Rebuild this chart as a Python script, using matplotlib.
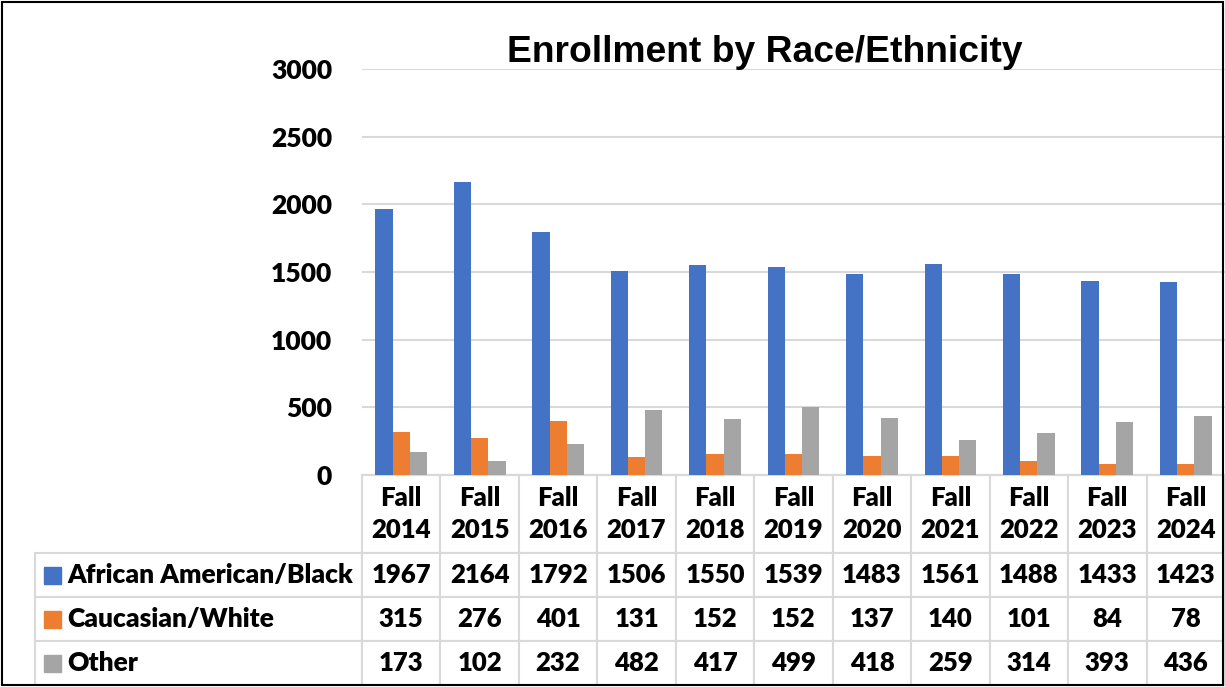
import matplotlib.pyplot as plt
import numpy as np
from matplotlib.patches import Rectangle

# Data
years = ["Fall\n2014", "Fall\n2015", "Fall\n2016", "Fall\n2017", "Fall\n2018", "Fall\n2019",
         "Fall\n2020", "Fall\n2021", "Fall\n2022", "Fall\n2023", "Fall\n2024"]
series_names = ["African American/Black", "Caucasian/White", "Other"]
black = [1967, 2164, 1792, 1506, 1550, 1539, 1483, 1561, 1488, 1433, 1423]
white = [315, 276, 401, 131, 152, 152, 137, 140, 101, 84, 78]
other = [173, 102, 232, 482, 417, 499, 418, 259, 314, 393, 436]
colors = ["#4472C4", "#ED7D31", "#A5A5A5"]

W, H = 1225, 687
fig = plt.figure(figsize=(W / 100, H / 100), dpi=100)

# plot area in pixels: x 362..1225, y 69..475 (from top)
ax = fig.add_axes([362 / W, (H - 475) / H, (W - 362) / W, (475 - 69) / H])

x = np.arange(len(years))
bw = 0.22
for i, vals in enumerate([black, white, other]):
    ax.bar(x + (i - 1) * bw, vals, width=bw, color=colors[i], zorder=3)

ax.set_xlim(-0.5, len(years) - 0.5)
ax.set_ylim(0, 3000)
ax.set_yticks(range(0, 3001, 500))
ax.set_xticks([])
ax.grid(axis="y", color="#D9D9D9", linewidth=1.5, zorder=0)
for s in ["top", "right", "left"]:
    ax.spines[s].set_visible(False)
ax.spines["bottom"].set_color("#D9D9D9")
ax.spines["bottom"].set_linewidth(1.5)
ax.tick_params(axis="y", length=0, pad=21.5)
for lab in ax.get_yticklabels():
    lab.set_fontfamily("Lato")
    lab.set_fontweight("heavy")
    lab.set_fontsize(19)

fig.text(765 / W, (H - 53) / H, "Enrollment by Race/Ethnicity", ha="center", va="center",
         fontsize=26.8, fontweight="bold", family="Liberation Sans")

# data table under the bars
cell_text = [[""] + years]
for name, vals in zip(series_names, [black, white, other]):
    cell_text.append([name] + [str(v) for v in vals])

tab = ax.table(cellText=cell_text, cellLoc="center",
               bbox=[(35 - 362) / (W - 362), -(685 - 475) / (475 - 69),
                     (W - 35) / (W - 362), (685 - 475) / (475 - 69)])
tab.auto_set_font_size(False)
for (r, c), cell in tab.get_celld().items():
    cell.set_edgecolor("#D9D9D9")
    cell.set_linewidth(1.5)
    cell.set_height(78 if r == 0 else 44)
    cell.set_width(327 if c == 0 else 78.5)
    t = cell.get_text()
    t.set_fontfamily("Lato")
    t.set_fontweight("heavy")
    t.set_fontsize(18.5)
    if r == 0:
        t.set_linespacing(1.45)
    if c == 0:
        cell.set_text_props(ha="left", fontsize=19)
        cell.PAD = 0.098
    if r == 0 and c == 0:
        cell.visible_edges = ""

# legend keys in the row label column
for i in range(3):
    yc = 575 + i * 44
    fig.patches.append(Rectangle((44 / W, (H - yc - 8.5) / H), 17 / W, 17 / H,
                                 transform=fig.transFigure, color=colors[i]))

fig.patches.append(Rectangle((2 / W, 2 / H), (W - 4) / W, (H - 4) / H, transform=fig.transFigure,
                             fill=False, edgecolor="black", linewidth=1.5))

fig.savefig("out.png", dpi=100)
